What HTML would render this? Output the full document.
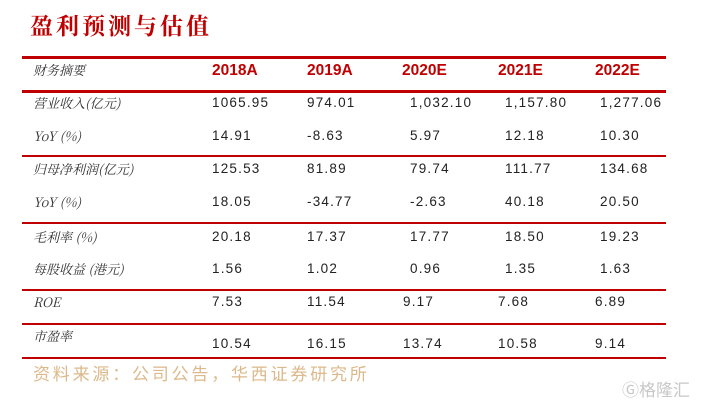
<!DOCTYPE html>
<html><head><meta charset="utf-8"><style>
body{margin:0;width:701px;height:404px;background:#fff;position:relative;overflow:hidden;font-family:"Liberation Sans","Noto Sans CJK SC",sans-serif}
.t{position:absolute;white-space:nowrap}
.r{position:absolute;left:22px;right:35px;background:#c00000}
.lab{font-family:"Noto Serif CJK SC","Liberation Serif",serif;font-style:italic;font-size:13px;color:#333;left:33px}
.v{font-family:"Liberation Sans","Noto Sans CJK SC",sans-serif;font-size:13.5px;color:#222;letter-spacing:1.2px}
.h{font-family:"Liberation Sans",sans-serif;font-weight:bold;font-size:15.5px;color:#c00000}
</style></head><body>
<div class="t" style="left:30px;top:8px;font-size:23px;font-weight:bold;color:#c00000;font-family:'Noto Serif CJK SC',serif;letter-spacing:3px">盈利预测与估值</div>
<div class="r" style="top:56px;height:3px"></div>
<div class="r" style="top:90px;height:3px"></div>
<div class="r" style="top:155px;height:2px"></div>
<div class="r" style="top:222px;height:2px"></div>
<div class="r" style="top:289px;height:2px"></div>
<div class="r" style="top:323px;height:2px"></div>
<div class="r" style="top:357px;height:2px"></div>

<div class="t lab" style="top:60px">财务摘要</div>
<div class="t h" style="left:212px;top:62px">2018A</div>
<div class="t h" style="left:307px;top:62px">2019A</div>
<div class="t h" style="left:402px;top:62px">2020E</div>
<div class="t h" style="left:498px;top:62px">2021E</div>
<div class="t h" style="left:595px;top:62px">2022E</div>

<div class="t lab" style="top:93px">营业收入(亿元)</div>
<div class="t v" style="left:212px;top:95px">1065.95</div><div class="t v" style="left:307px;top:95px">974.01</div><div class="t v" style="left:410px;top:95px">1,032.10</div><div class="t v" style="left:505px;top:95px">1,157.80</div><div class="t v" style="left:600px;top:95px">1,277.06</div>

<div class="t lab" style="top:126px">YoY (%)</div>
<div class="t v" style="left:212px;top:128px">14.91</div><div class="t v" style="left:307px;top:128px">-8.63</div><div class="t v" style="left:410px;top:128px">5.97</div><div class="t v" style="left:505px;top:128px">12.18</div><div class="t v" style="left:600px;top:128px">10.30</div>

<div class="t lab" style="top:159px">归母净利润(亿元)</div>
<div class="t v" style="left:212px;top:161px">125.53</div><div class="t v" style="left:307px;top:161px">81.89</div><div class="t v" style="left:410px;top:161px">79.74</div><div class="t v" style="left:505px;top:161px">111.77</div><div class="t v" style="left:600px;top:161px">134.68</div>

<div class="t lab" style="top:192px">YoY (%)</div>
<div class="t v" style="left:212px;top:194px">18.05</div><div class="t v" style="left:307px;top:194px">-34.77</div><div class="t v" style="left:410px;top:194px">-2.63</div><div class="t v" style="left:505px;top:194px">40.18</div><div class="t v" style="left:600px;top:194px">20.50</div>

<div class="t lab" style="top:227px">毛利率 (%)</div>
<div class="t v" style="left:212px;top:229px">20.18</div><div class="t v" style="left:307px;top:229px">17.37</div><div class="t v" style="left:410px;top:229px">17.77</div><div class="t v" style="left:505px;top:229px">18.50</div><div class="t v" style="left:600px;top:229px">19.23</div>

<div class="t lab" style="top:259px">每股收益 (港元)</div>
<div class="t v" style="left:212px;top:261px">1.56</div><div class="t v" style="left:307px;top:261px">1.02</div><div class="t v" style="left:410px;top:261px">0.96</div><div class="t v" style="left:505px;top:261px">1.35</div><div class="t v" style="left:600px;top:261px">1.63</div>

<div class="t lab" style="top:292px">ROE</div>
<div class="t v" style="left:212px;top:294px">7.53</div><div class="t v" style="left:307px;top:294px">11.54</div><div class="t v" style="left:403px;top:294px">9.17</div><div class="t v" style="left:498px;top:294px">7.68</div><div class="t v" style="left:595px;top:294px">6.89</div>

<div class="t lab" style="top:326px">市盈率</div>
<div class="t v" style="left:212px;top:336px">10.54</div><div class="t v" style="left:307px;top:336px">16.15</div><div class="t v" style="left:403px;top:336px">13.74</div><div class="t v" style="left:498px;top:336px">10.58</div><div class="t v" style="left:595px;top:336px">9.14</div>

<div class="t" style="left:33px;top:360px;font-size:17px;color:#dcb88a;letter-spacing:2.8px">资料来源：公司公告，华西证券研究所</div>
<div class="t" style="left:622px;top:376px;font-size:17px;color:#c8c8c8">Ⓖ格隆汇</div>
</body></html>
